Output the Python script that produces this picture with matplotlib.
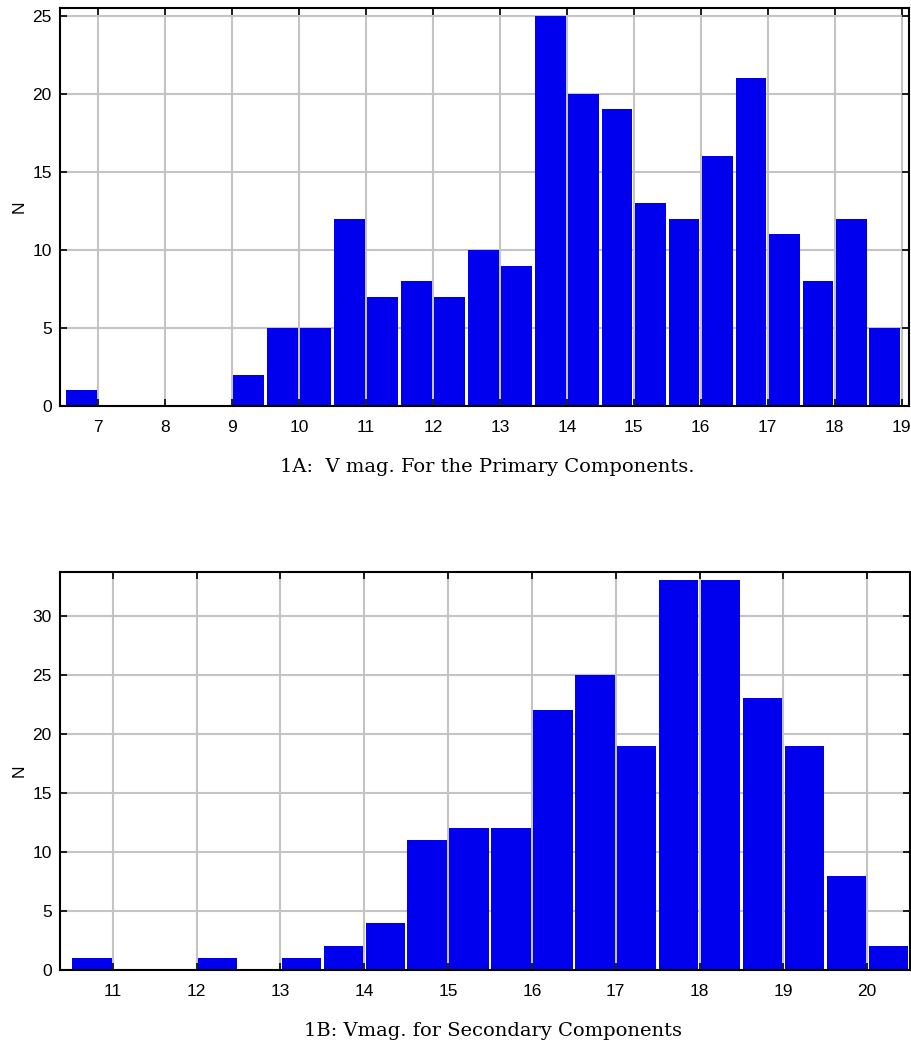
import matplotlib
matplotlib.use("Agg")
import matplotlib.pyplot as plt
import numpy as np

# Panel 1A: primary components
bins_a = [6.5, 7.0, 7.5, 8.0, 8.5, 9.0, 9.5, 10.0, 10.5, 11.0, 11.5, 12.0, 12.5,
          13.0, 13.5, 14.0, 14.5, 15.0, 15.5, 16.0, 16.5, 17.0, 17.5, 18.0, 18.5]
counts_a = [1, 0, 0, 0, 0, 2, 5, 5, 12, 7, 8, 7, 10,
            9, 25, 20, 19, 13, 12, 16, 21, 11, 8, 12, 5]
xticks_a = [7, 8, 9, 10, 11, 12, 13, 14, 15, 16, 17, 18, 19]
yticks_a = [0, 5, 10, 15, 20, 25]
caption_a = "1A:  V mag. For the Primary Components."

# Panel 1B: secondary components
bins_b = [10.5, 11.0, 11.5, 12.0, 12.5, 13.0, 13.5, 14.0, 14.5, 15.0, 15.5,
          16.0, 16.5, 17.0, 17.5, 18.0, 18.5, 19.0, 19.5, 20.0]
counts_b = [1, 0, 0, 1, 0, 1, 2, 4, 11, 12, 12,
            22, 25, 19, 33, 33, 23, 19, 8, 2]
xticks_b = [11, 12, 13, 14, 15, 16, 17, 18, 19, 20]
yticks_b = [0, 5, 10, 15, 20, 25, 30]
caption_b = "1B: Vmag. for Secondary Components"

BIN = 0.5
BLUE = "#0000ee"
W, H = 912, 1044
fig = plt.figure(figsize=(W / 100, H / 100), dpi=100)

def style(ax):
    ax.set_axisbelow(True)
    ax.grid(True, color="#c4c4c4", linewidth=1.5)
    ax.tick_params(direction="in", length=5, width=1.2, top=True, right=True,
                   labelsize=12.5, color="black")
    ax.tick_params(axis="x", pad=10)
    ax.tick_params(axis="y", pad=6)
    for s in ax.spines.values():
        s.set_linewidth(1.5)
        s.set_color("black")
    for lab in ax.get_xticklabels() + ax.get_yticklabels():
        lab.set_family("Liberation Sans")
    ax.set_ylabel("N", family="Liberation Sans", fontsize=12.5, labelpad=4)

def px(x0, y0, x1, y1):
    return [x0 / W, 1 - y1 / H, (x1 - x0) / W, (y1 - y0) / H]

ax1 = fig.add_axes(px(60, 8, 909, 406))
centers_a = np.array(bins_a) + BIN / 2
ax1.bar(centers_a, counts_a, width=0.46, align="center", color=BLUE,
        edgecolor="none", linewidth=0)
ax1.set_xlim(6.43, 19.11)
ax1.set_ylim(0, 25.5)
ax1.set_xticks(xticks_a)
ax1.set_yticks(yticks_a)
style(ax1)
fig.text(487 / W, 1 - 467 / H, caption_a, ha="center", va="center",
         family="DejaVu Serif", fontsize=14)

ax2 = fig.add_axes(px(60, 572, 910, 970))
centers_b = np.array(bins_b) + BIN / 2
ax2.bar(centers_b, counts_b, width=0.47, align="center", color=BLUE,
        edgecolor="none", linewidth=0)
ax2.set_xlim(10.37, 20.51)
ax2.set_ylim(0, 33.7)
ax2.set_xticks(xticks_b)
ax2.set_yticks(yticks_b)
style(ax2)
fig.text(493 / W, 1 - 1031 / H, caption_b, ha="center", va="center",
         family="DejaVu Serif", fontsize=14)

fig.savefig("out.png", dpi=100)
